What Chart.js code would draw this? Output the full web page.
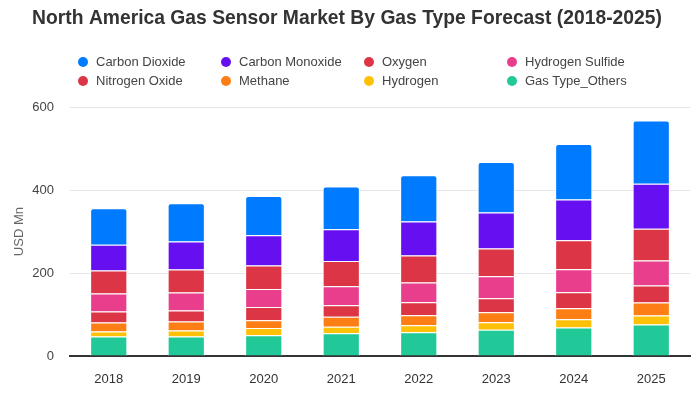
<!DOCTYPE html>
<html lang="en">
<head>
  <meta charset="UTF-8" />
  <title>North America Gas Sensor Market By Gas Type Forecast</title>
  <script src="https://cdn.jsdelivr.net/npm/chart.js"></script>
  <style>
    body {
      margin: 0;
      background: #fff;
      font-family: Arial, "Liberation Sans", sans-serif;
    }
    .wrap {
      position: relative;
      width: 700px;
      height: 400px;
    }
    .legend {
      position: absolute;
      left: 78px;
      top: 53px;
      display: grid;
      grid-template-columns: repeat(4, 143px);
      row-gap: 0;
      font-size: 13px;
      color: #444;
    }
    .legend div {
      height: 18.5px;
      line-height: 18.5px;
      white-space: nowrap;
    }
    .legend span {
      display: inline-block;
      width: 10px;
      height: 10px;
      border-radius: 50%;
      margin-right: 8px;
      vertical-align: -1px;
    }
  </style>
</head>
<body>
<div class="wrap">
  <canvas id="chart" width="700" height="400"></canvas>
  <div class="legend" id="legend"></div>
</div>

<script>
  // data (USD Mn)
  const years = ["2018", "2019", "2020", "2021", "2022", "2023", "2024", "2025"];

  const gasOthers      = [47, 47, 50, 55, 57, 63, 69, 76];
  const hydrogen       = [12, 14.5, 17.5, 15.5, 17, 18.5, 19.5, 21.5];
  const methane        = [21.5, 21.5, 18.5, 24, 24, 24, 26.5, 31.5];
  const nitrogenOxide  = [26.5, 26.5, 32, 28, 31.5, 33.5, 38.5, 41];
  const hydrogenSulfide = [43.5, 43.5, 43.5, 45.5, 48, 53, 55.5, 60];
  const oxygen         = [55.5, 55.5, 57, 61, 65, 67.5, 70, 77];
  const carbonMonoxide = [62.5, 67.5, 72.5, 76.5, 82, 86.5, 98.5, 108.5];
  const carbonDioxide  = [87.5, 92.5, 94.5, 103, 111.5, 121.5, 133.5, 152.5];

  const yTicks = [0, 200, 400, 600];

  // bottom of the stack first
  const series = [
    { label: "Gas Type_Others", data: gasOthers, color: "#20c997" },
    { label: "Hydrogen", data: hydrogen, color: "#ffc107" },
    { label: "Methane", data: methane, color: "#fd7e14" },
    { label: "Nitrogen Oxide", data: nitrogenOxide, color: "#dc3545" },
    { label: "Hydrogen Sulfide", data: hydrogenSulfide, color: "#e83e8c" },
    { label: "Oxygen", data: oxygen, color: "#dc3545" },
    { label: "Carbon Monoxide", data: carbonMonoxide, color: "#6610f2" },
    { label: "Carbon Dioxide", data: carbonDioxide, color: "#007bff" }
  ];

  const legendOrder = ["Carbon Dioxide", "Carbon Monoxide", "Oxygen", "Hydrogen Sulfide",
                       "Nitrogen Oxide", "Methane", "Hydrogen", "Gas Type_Others"];

  Chart.defaults.font.family = 'Arial, "Liberation Sans", sans-serif';
  Chart.defaults.font.size = 13;

  new Chart(document.getElementById("chart"), {
    type: "bar",
    data: {
      labels: years,
      datasets: series.map(s => ({
        label: s.label,
        data: s.data,
        backgroundColor: s.color,
        borderColor: "#fff",
        borderWidth: 1,
        borderRadius: 3,
        categoryPercentage: 0.8,
        barPercentage: 0.6
      }))
    },
    options: {
      responsive: false,
      animation: false,
      layout: { padding: { left: 4, right: 10, bottom: 14, top: 0 } },
      plugins: {
        legend: { display: false },
        tooltip: { enabled: false },
        title: {
          display: true,
          text: "North America Gas Sensor Market By Gas Type Forecast (2018-2025)",
          color: "#333",
          font: { size: 19.3, weight: "bold" },
          padding: { top: 7, bottom: 77 }
        }
      },
      scales: {
        x: {
          stacked: true,
          grid: { display: false, drawTicks: false },
          border: { display: true, color: "#333", width: 2 },
          ticks: { color: "#333", padding: 16 },
          afterFit: axis => { axis.height = 30; }
        },
        y: {
          stacked: true,
          min: 0,
          max: 600,
          afterBuildTicks: axis => { axis.ticks = yTicks.map(v => ({ value: v })); },
          grid: { color: "#e6e6e6", drawTicks: false },
          border: { display: false },
          ticks: { color: "#444", padding: 16 },
          title: {
            display: true,
            text: "USD Mn",
            color: "#666",
            padding: { top: 8, bottom: 4 }
          },
          afterFit: axis => { axis.width = 66; }
        }
      }
    }
  });

  const legend = document.getElementById("legend");
  legendOrder.forEach(name => {
    const s = series.find(x => x.label === name);
    const item = document.createElement("div");
    item.innerHTML = `<span style="background:${s.color}"></span>${s.label}`;
    legend.appendChild(item);
  });
</script>
</body>
</html>
